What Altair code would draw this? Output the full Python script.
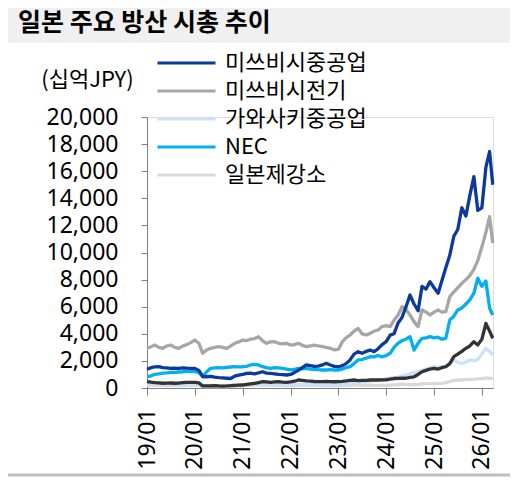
import altair as alt
import pandas as pd

series_names = ["미쓰비시중공업", "미쓰비시전기", "가와사키중공업", "NEC", "일본제강소", "IHI"]
series_colors = ["#0b3a9c", "#a6a6a6", "#c8e1fc", "#00b0f0", "#d9d9d9", "#333333"]
legend_names = ["미쓰비시중공업", "미쓰비시전기", "가와사키중공업", "NEC", "일본제강소"]
draw_order = ["일본제강소", "가와사키중공업", "IHI", "미쓰비시전기", "NEC", "미쓰비시중공업"]
year_ticks = [2019, 2020, 2021, 2022, 2023, 2024, 2025, 2026]
y_ticks = [0, 2000, 4000, 6000, 8000, 10000, 12000, 14000, 16000, 18000, 20000]

# monthly (1st of month, 2019-01 .. 2026-03) + last point 2026-03-25, unit: 십억JPY
mhi = [1380, 1500, 1560, 1570, 1500, 1480, 1450, 1470, 1450, 1480, 1460, 1450,
       1450, 1300, 850, 830, 860, 800, 760, 740, 720, 700, 880, 950,
       1010, 1080, 1100, 1050, 1120, 1200, 1100, 1080, 1050, 1000, 980, 960,
       1000, 1150, 1300, 1500, 1700, 1650, 1600, 1620, 1700, 1820, 1700, 1600,
       1570, 1650, 1800, 2070, 2500, 2680, 2560, 2700, 2800, 2680, 2900, 3200,
       3420, 3900, 4000, 4800, 5200, 6000, 6860, 6200, 5700, 7500, 7300, 7850,
       7400, 7000, 7900, 8900, 9800, 11200, 11700, 13300, 12700, 14200, 15600, 13100,
       13300, 16300, 17450, 15000]
melco = [2930, 3050, 3170, 3000, 2930, 3100, 3170, 3000, 2930, 3100, 3200, 3350,
         3540, 3300, 2560, 2800, 2930, 3000, 3050, 3000, 2930, 3100, 3300, 3400,
         3540, 3500, 3600, 3650, 3790, 3500, 3300, 3400, 3420, 3300, 3250, 3300,
         3170, 3200, 3300, 3150, 3050, 3100, 3170, 3100, 3050, 3000, 2930, 2810,
         2850, 3420, 3700, 3910, 4200, 4400, 4000, 3910, 4030, 4200, 4280, 4530,
         4600, 4530, 5000, 5390, 6000, 5800, 5390, 4900, 4530, 5760, 5600, 5390,
         5600, 5760, 5600, 5640, 6740, 7100, 7400, 7720, 8000, 8300, 8750, 9400,
         10400, 11500, 12640, 10700]
khi = [350, 330, 320, 300, 300, 310, 290, 280, 300, 300, 310, 290,
       280, 250, 180, 200, 190, 200, 180, 170, 180, 200, 220, 230,
       240, 250, 280, 300, 280, 270, 260, 250, 270, 280, 260, 250,
       240, 260, 270, 260, 250, 240, 250, 260, 270, 260, 250, 260,
       280, 300, 320, 350, 400, 420, 430, 450, 500, 560, 590, 620,
       700, 720, 760, 800, 900, 960, 1050, 1150, 1200, 1300, 1400, 1500,
       1570, 1500, 1570, 1600, 1800, 2070, 1900, 1820, 1900, 2070, 2000, 2100,
       2500, 2930, 2700, 2440]
nec = [830, 900, 1010, 1050, 1100, 1120, 1160, 1150, 1180, 1200, 1230, 1250,
       1200, 1150, 830, 1200, 1450, 1480, 1500, 1480, 1520, 1550, 1570, 1560,
       1570, 1600, 1700, 1740, 1700, 1570, 1500, 1450, 1500, 1480, 1450, 1400,
       1330, 1380, 1450, 1420, 1450, 1400, 1380, 1350, 1330, 1330, 1350, 1330,
       1330, 1400, 1500, 1570, 1800, 2070, 2100, 2200, 2310, 2300, 2400, 2300,
       2400, 2560, 3000, 3300, 3500, 3600, 3790, 2800, 3300, 3670, 3700, 3790,
       3700, 3750, 3600, 3670, 5020, 5300, 5760, 5900, 6200, 6500, 7000, 8100,
       7500, 7900, 5900, 5390]
jsw = [220, 210, 200, 200, 190, 180, 170, 170, 180, 180, 190, 190,
       180, 170, 100, 110, 120, 110, 100, 100, 110, 120, 130, 140,
       150, 170, 200, 220, 230, 220, 210, 200, 210, 200, 190, 180,
       170, 180, 200, 220, 210, 200, 200, 190, 180, 190, 180, 170,
       180, 190, 200, 210, 220, 210, 200, 200, 210, 200, 190, 200,
       200, 210, 220, 240, 280, 260, 250, 240, 260, 300, 320, 330,
       340, 330, 340, 400, 480, 560, 590, 600, 620, 640, 650, 680,
       700, 740, 720, 710]
ihi = [470, 430, 400, 380, 350, 360, 370, 350, 360, 400, 420, 410,
       420, 380, 150, 160, 150, 170, 150, 140, 150, 170, 200, 210,
       220, 260, 300, 350, 400, 470, 450, 420, 450, 470, 430, 420,
       450, 500, 590, 560, 520, 500, 480, 470, 470, 480, 470, 460,
       470, 490, 520, 560, 590, 550, 560, 560, 590, 600, 590, 600,
       600, 650, 700, 710, 720, 720, 780, 830, 1000, 1200, 1300, 1400,
       1450, 1400, 1500, 1570, 1800, 2310, 2500, 2700, 2930, 3100, 3420, 3180,
       3600, 4770, 4200, 3670]

dates = list(pd.date_range("2019-01-01", "2026-03-01", freq="MS")) + [pd.Timestamp("2026-03-25")]
values_by_series = {
    "미쓰비시중공업": mhi, "미쓰비시전기": melco, "가와사키중공업": khi,
    "NEC": nec, "일본제강소": jsw, "IHI": ihi,
}
rows = []
for name, vals in values_by_series.items():
    for d, v in zip(dates, vals):
        rows.append({"date": d, "value": v, "series": name})
df = pd.DataFrame(rows)

PLOT_W, PLOT_H = 346, 271
PAD = {"left": 139, "top": 109, "right": 17, "bottom": 89}

x_enc = alt.X(
    "date:T",
    scale=alt.Scale(domain=[alt.DateTime(year=2019, month=1, date=1),
                            alt.DateTime(year=2026, month=3, date=27)]),
    axis=alt.Axis(
        values=[alt.DateTime(year=y, month=1, date=1) for y in year_ticks],
        format="%y/%m", labelAngle=-90, labelFontSize=23, labelFont="Noto Sans",
        labelColor="#000000", labelPadding=13, labelFlush=False, labelOverlap=False,
        tickSize=7, tickColor="#7f7f7f", domainColor="#7f7f7f", grid=False, title=None,
    ),
)
y_enc = alt.Y(
    "value:Q",
    scale=alt.Scale(domain=[0, 20000]),
    axis=alt.Axis(
        values=y_ticks, format=",.0f", labelFontSize=23, labelFont="Noto Sans",
        labelColor="#000000", labelPadding=23, labelOverlap=False,
        tickSize=6, tickColor="#7f7f7f", domainColor="#7f7f7f", grid=False,
        title="(십억JPY)", titleAngle=0, titleX=-60, titleY=-38, titleAlign="center",
        titleBaseline="middle", titleFontSize=22, titleFontWeight="normal",
        titleFont="Noto Sans CJK KR", titleColor="#000000",
    ),
)
color_enc = alt.Color(
    "series:N",
    scale=alt.Scale(domain=series_names, range=series_colors),
    legend=alt.Legend(
        title=None, orient="none", legendX=9, legendY=-68, values=legend_names,
        symbolType="stroke", symbolSize=3364, symbolStrokeWidth=3, clipHeight=28,
        rowPadding=0, padding=0, labelFontSize=22, labelFont="Noto Sans CJK KR",
        labelColor="#000000", labelOffset=8, labelLimit=300,
    ),
)

base = alt.Chart(df).mark_line(strokeWidth=3.3, strokeJoin="round").encode(
    x=x_enc, y=y_enc, color=color_enc)
line_layers = [base.transform_filter(alt.datum.series == s) for s in draw_order]

one = alt.Data(values=[{}])
header_bg = alt.Chart(one).mark_rect(color="#f0f0f0").encode(
    x=alt.value(-139), x2=alt.value(363), y=alt.value(-109), y2=alt.value(-74))
header_txt = alt.Chart(one).mark_text(
    text="일본 주요 방산 시총 추이", align="left", baseline="middle", fontSize=25,
    fontWeight="bold", font="Noto Sans CJK KR", color="#000000",
).encode(x=alt.value(-129), y=alt.value(-94))
bottom_rule = alt.Chart(one).mark_rule(color="#bfbfbf", strokeWidth=3).encode(
    x=alt.value(-139), x2=alt.value(363), y=alt.value(358))

chart = alt.layer(header_bg, header_txt, bottom_rule, *line_layers).properties(
    width=PLOT_W, height=PLOT_H, padding=PAD,
    autosize=alt.AutoSizeParams(type="none"),
).configure_view(stroke=None).configure(background="#ffffff")

chart.save("out.html", embed_options={"renderer": "svg", "actions": False})
